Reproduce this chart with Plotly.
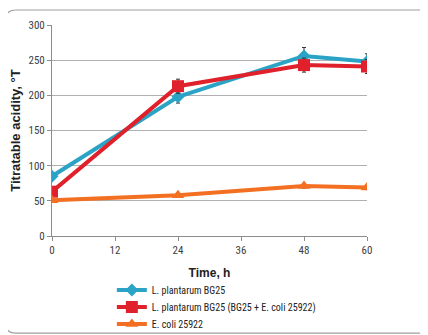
import plotly.graph_objects as go

time_h = [0, 24, 48, 60]
bg25 = [85, 198, 256, 248]
bg25_err = [3, 9, 12, 11]
mix = [63, 213, 243, 241]
mix_err = [3, 10, 10, 10]
ecoli = [51, 58, 71, 69]
ecoli_err = [2, 3, 3, 3]
names = ["L. plantarum BG25", "L. plantarum BG25 (BG25 + E. coli 25922)", "E. coli 25922"]
colors = ["#2ba3c6", "#e0202a", "#f36f21"]
symbols = ["diamond", "square", "triangle-up"]
legend_ids = ["legend", "legend2", "legend3"]
legend_y = [-0.256, -0.336, -0.417]

fig = go.Figure()
for ys, err, nm, c, s, sz, lg in zip([bg25, mix, ecoli], [bg25_err, mix_err, ecoli_err], names, colors,
                                     symbols, [10, 12, 11], legend_ids):
    fig.add_trace(go.Scatter(
        x=time_h, y=ys, name=nm, mode="lines+markers", legend=lg,
        line=dict(color=c, width=4),
        marker=dict(symbol=s, size=sz, color=c),
        error_y=dict(type="data", array=err, color="#333333", thickness=1, width=2),
    ))

bc = "#a0a0a0"
leg_common = dict(x=0.19, xanchor="left", yanchor="middle", bgcolor="rgba(0,0,0,0)",
                  font=dict(size=10, color="#222222"), itemwidth=30)
fig.update_layout(
    width=428, height=335,
    margin=dict(l=44, r=69, t=17, b=107, autoexpand=False),
    paper_bgcolor="white", plot_bgcolor="white",
    font=dict(family="Liberation Sans Narrow, Arial Narrow, Roboto Condensed, Liberation Sans, sans-serif", size=10, color="#404040"),
    showlegend=True,
    legend=dict(y=legend_y[0], **leg_common),
    legend2=dict(y=legend_y[1], **leg_common),
    legend3=dict(y=legend_y[2], **leg_common),
    shapes=[
        dict(type="line", xref="paper", yref="paper", x0=-0.146, x1=-0.146, y0=-0.42, y1=1.03,
             line=dict(color=bc, width=1.2)),
        dict(type="line", xref="paper", yref="paper", x0=-0.115, x1=1.3, y0=1.071, y1=1.071,
             line=dict(color=bc, width=1.2)),
        dict(type="path", xref="paper", yref="paper",
             path="M -0.146 1.03 Q -0.146 1.071 -0.115 1.071",
             line=dict(color=bc, width=1.2)),
        dict(type="path", xref="paper", yref="paper",
             path="M -0.146 -0.42 Q -0.146 -0.46 -0.115 -0.46 L 1.3 -0.46",
             line=dict(color=bc, width=1.2)),
    ],
)
fig.update_xaxes(range=[0, 60], tickvals=[0, 12, 24, 36, 48, 60], showgrid=False, automargin=False,
                 showline=True, linecolor="#8c8c8c", ticks="outside", ticklen=4, tickcolor="#8c8c8c",
                 tickfont=dict(size=11),
                 title=dict(text="<b>Time, h</b>", font=dict(size=12, color="#222222",
                            family="Liberation Sans, Arial, sans-serif"), standoff=12),
                 zeroline=False)
fig.update_yaxes(range=[0, 300], tickvals=[0, 50, 100, 150, 200, 250, 300], showgrid=True, automargin=False,
                 gridcolor="#b0b0b0", showline=True, linecolor="#8c8c8c", ticks="outside",
                 ticklen=4, tickcolor="#8c8c8c", tickfont=dict(size=11),
                 title=dict(text="<b>Titratable acidity, °T</b>", font=dict(size=13, color="#222222",
                            family="Liberation Sans, Arial, sans-serif"), standoff=4),
                 zeroline=False)

fig.write_html("out.html")
